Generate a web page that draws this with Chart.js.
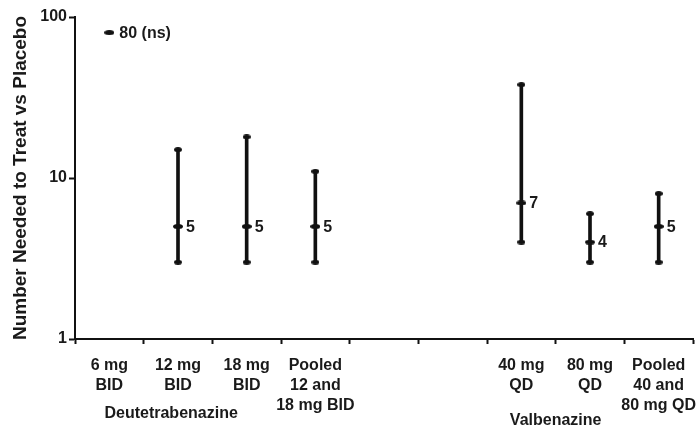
<!DOCTYPE html>
<html>
<head>
<meta charset="utf-8">
<script src="https://cdn.jsdelivr.net/npm/chart.js@4.4.1/dist/chart.umd.min.js"></script>
<style>
  body { margin: 0; background: #fff; }
  #wrap { width: 699px; height: 428px; position: relative; }
</style>
</head>
<body>
<div id="wrap"><canvas id="nntChart"></canvas></div>
<script>
// categories (two blank slots separate the two drugs)
var categories = [
    ['6 mg', 'BID'], ['12 mg', 'BID'], ['18 mg', 'BID'], ['Pooled', '12 and', '18 mg BID'],
    '', '',
    ['40 mg', 'QD'], ['80 mg', 'QD'], ['Pooled', '40 and', '80 mg QD']
];
var nnt = [80, 5, 5, 5, null, null, 7, 4, 5];
var ciLow = [null, 3, 3, 3, null, null, 4, 3, 3];
var ciHigh = [null, 15, 18, 11, null, null, 38, 6, 8];
var valueLabels = ['80 (ns)', '5', '5', '5', '', '', '7', '4', '5'];
var drugNames = ['Deutetrabenazine', 'Valbenazine'];
var yTickValues = [1, 10, 100];

var ink = '#111';
var textInk = '#1a1a1a';
var fontFam = '"Liberation Sans", Arial, sans-serif';

function makeDot(w, h) {
    var c = document.createElement('canvas');
    c.width = w; c.height = h;
    var g = c.getContext('2d');
    g.fillStyle = ink;
    g.beginPath();
    g.ellipse(w / 2, h / 2, w / 2, h / 2, 0, 0, Math.PI * 2);
    g.fill();
    return c;
}
var midDot = makeDot(10, 5);
var endDot = makeDot(8, 5);

var ciRange = ciLow.map(function (l, i) { return l == null ? null : [l, ciHigh[i]]; });

var labelPlugin = {
    id: 'nntLabels',
    afterDatasetsDraw: function (chart) {
        var ctx = chart.ctx;
        var meta = chart.getDatasetMeta(1);
        ctx.save();
        ctx.fillStyle = textInk;
        ctx.font = 'bold 16px ' + fontFam;
        ctx.textBaseline = 'middle';
        ctx.textAlign = 'left';
        meta.data.forEach(function (pt, i) {
            if (!valueLabels[i] || nnt[i] == null) return;
            var off = i === 0 ? 10 : 8;
            ctx.fillText(valueLabels[i], pt.x + off, pt.y + 1);
        });
        // drug group names under the tick labels
        var xs = chart.scales.x;
        var bottom = chart.chartArea.bottom;
        ctx.textAlign = 'center';
        ctx.fillText(drugNames[0], xs.getPixelForValue(0.9), bottom + 75);
        ctx.fillText(drugNames[1], xs.getPixelForValue(6.5), bottom + 82);
        ctx.restore();
    }
};

var config = {
    type: 'bar',
    data: {
        labels: categories,
        datasets: [
            {
                type: 'bar',
                data: ciRange,
                backgroundColor: ink,
                borderWidth: 0,
                barThickness: 3
            },
            {
                type: 'line',
                data: nnt,
                showLine: false,
                pointStyle: midDot,
                pointRadius: 5
            },
            {
                type: 'line',
                data: ciLow,
                showLine: false,
                pointStyle: endDot,
                pointRadius: 4
            },
            {
                type: 'line',
                data: ciHigh,
                showLine: false,
                pointStyle: endDot,
                pointRadius: 4
            }
        ]
    },
    options: {
        responsive: true,
        maintainAspectRatio: false,
        animation: false,
        layout: { padding: { top: 17, right: 1, left: 0, bottom: 0 } },
        plugins: {
            legend: { display: false },
            tooltip: { enabled: false },
            title: { display: false }
        },
        scales: {
            x: {
                type: 'category',
                offset: true,
                grid: {
                    offset: true,
                    drawOnChartArea: false,
                    drawTicks: true,
                    tickLength: 5,
                    tickWidth: 2,
                    tickColor: ink
                },
                border: { display: true, color: ink, width: 2 },
                ticks: {
                    color: textInk,
                    padding: 12,
                    autoSkip: false,
                    maxRotation: 0,
                    font: { family: fontFam, size: 16, weight: 'bold', lineHeight: 1.25 }
                },
                afterFit: function (scale) {
                    scale.height = 89;
                    scale.paddingLeft = 0;
                    scale.paddingRight = 0;
                }
            },
            y: {
                type: 'logarithmic',
                min: 1,
                max: 100,
                grid: {
                    drawOnChartArea: false,
                    drawTicks: true,
                    tickLength: 6,
                    tickWidth: 2,
                    tickColor: ink
                },
                border: { display: true, color: ink, width: 2 },
                afterBuildTicks: function (scale) {
                    scale.ticks = yTickValues.map(function (v) { return { value: v }; });
                },
                ticks: {
                    color: textInk,
                    padding: 2,
                    font: { family: fontFam, size: 16, weight: 'bold' },
                    callback: function (v) { return String(v); }
                },
                title: {
                    display: true,
                    text: 'Number Needed to Treat vs Placebo',
                    color: textInk,
                    padding: { top: 9, bottom: 0 },
                    font: { family: fontFam, size: 19, weight: 'bold' }
                },
                afterFit: function (scale) {
                    scale.width = 75;
                }
            }
        }
    },
    plugins: [labelPlugin]
};

var ctx = document.getElementById('nntChart').getContext('2d');
var nntChart = new Chart(ctx, config);
</script>
</body>
</html>
